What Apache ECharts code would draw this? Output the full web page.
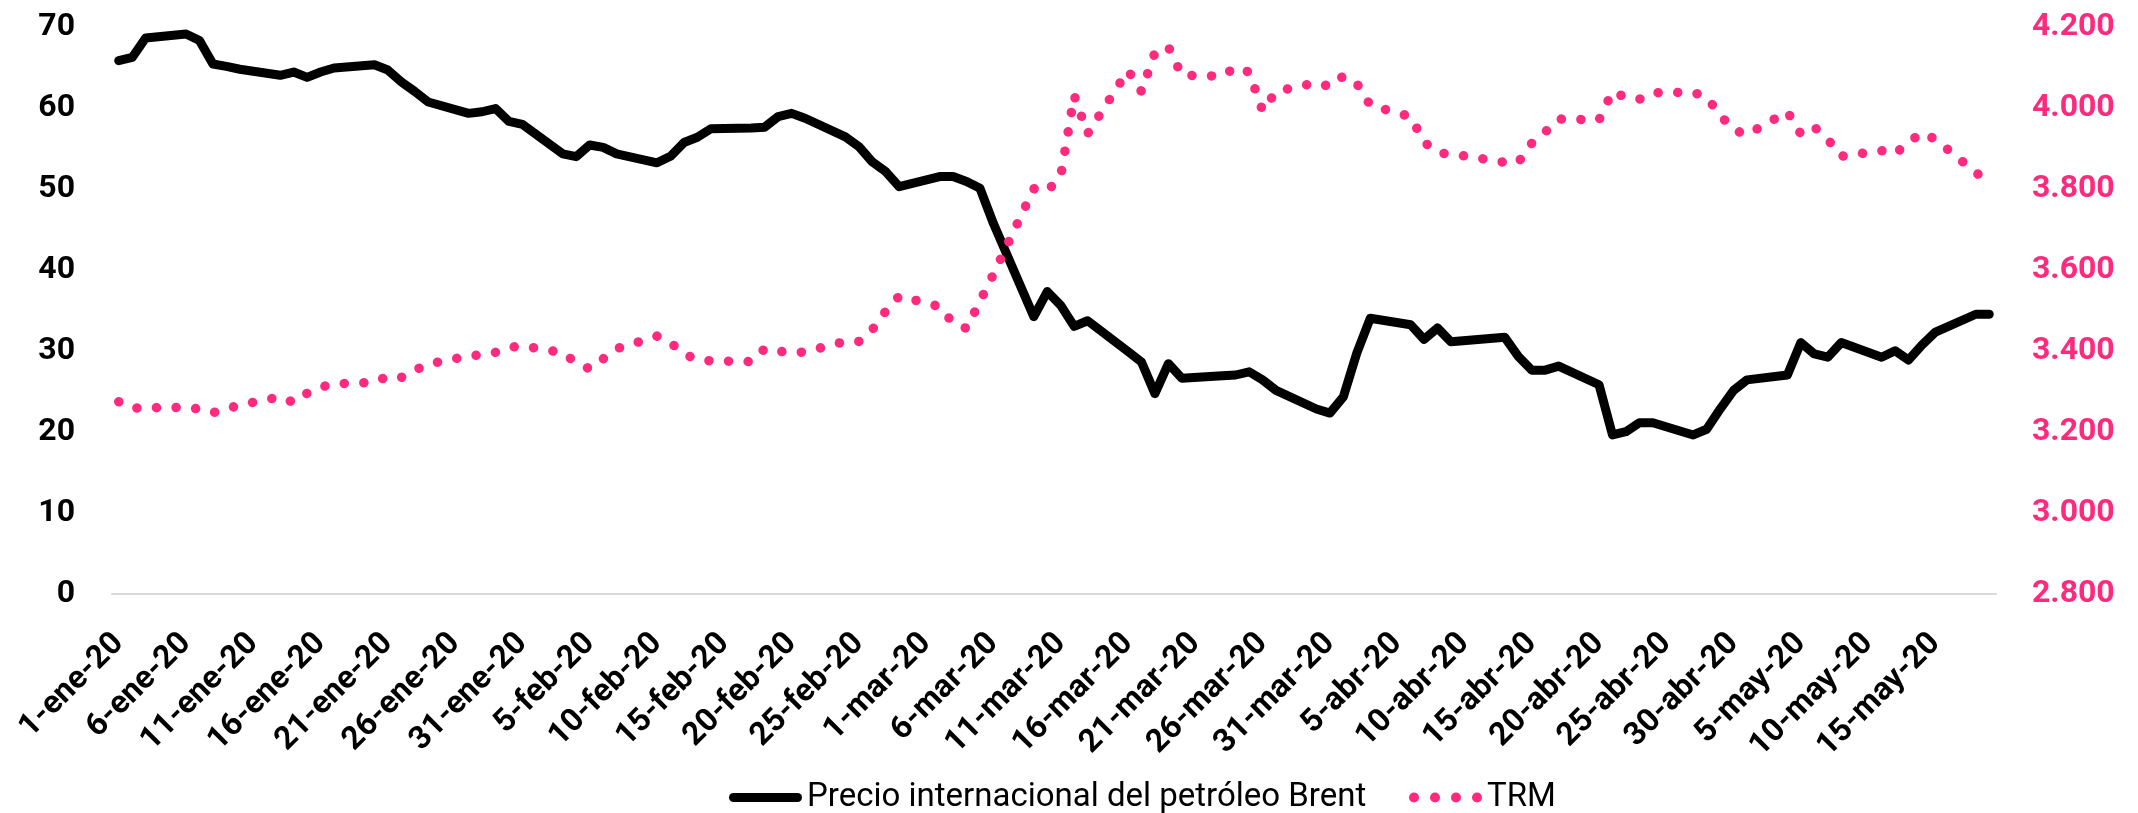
<!DOCTYPE html>
<html>
<head>
<meta charset="utf-8">
<script src="https://cdn.jsdelivr.net/npm/echarts@6/dist/echarts.min.js"></script>
<style>
  html, body { margin: 0; padding: 0; background: #fff; }
  #main { width: 2138px; height: 813px; }
</style>
</head>
<body>
<div id="main"></div>
<script>
// eje x: un dato por día calendario (1-ene-20 a 19-may-20)
var meses = ['ene', 'feb', 'mar', 'abr', 'may'];
var diasPorMes = [31, 29, 31, 30, 19];

// Brent (USD) por día del mes, null = sin cotización
var brentEne = [65.8, 66.2, 68.6, null, null, 69.1, 68.3, 65.4, 65.1, 64.75, null, null, 64.0, 64.4, 63.75, 64.4, 64.9, null, null, 65.3, 64.65, 63.2, 62.0, 60.7, null, null, 59.3, 59.5, 59.9, 58.3, 57.95];
var brentFeb = [null, null, 54.3, 53.95, 55.4, 55.1, 54.3, null, null, 53.2, 54.0, 55.7, 56.35, 57.4, null, null, 57.5, 57.6, 58.9, 59.3, 58.7, null, null, 56.4, 55.2, 53.3, 52.1, 50.25, null];
var brentMar = [null, 51.5, 51.5, 50.9, 50.05, 45.7, null, null, 34.2, 37.3, 35.6, 33.0, 33.7, null, null, 29.9, 28.6, 24.7, 28.4, 26.6, null, null, 26.9, 27.0, 27.4, 26.4, 25.1, null, null, 22.8, 22.3];
var brentAbr = [24.3, 29.7, 34.0, null, null, 33.2, 31.4, 32.8, 31.1, null, null, null, 31.65, 29.3, 27.6, 27.6, 28.1, null, null, 25.8, 19.6, 20.0, 21.1, 21.1, null, null, 19.6, 20.3, 22.8, 25.1];
var brentMay = [26.4, null, null, 27.0, 31.0, 29.6, 29.2, 31.0, null, null, 29.2, 30.0, 28.85, 30.7, 32.3, null, null, 34.5, 34.5];

// TRM (COP por USD)
var trmEne = [3274, 3258, 3259, null, null, 3260, 3256, 3247, 3256, 3266, null, null, 3286, 3272, 3295, 3310, 3318, null, null, 3322, 3337, 3334, 3352, 3367, null, null, 3387, 3390, 3396, 3408, 3412];
var trmFeb = [null, null, 3395, 3370, 3355, 3380, 3405, null, null, 3436, 3420, 3392, 3378, 3375, null, null, 3373, 3405, 3399, 3395, 3397, null, null, 3423, 3423, 3452, 3498, 3535, null];
var trmMar = [null, 3509, 3468, 3455, 3522, 3589, null, null, 3800, 3794, 3831, 4030, 3936, null, null, 4092, 4040, 4136, 4150, 4080, null, null, 4078, 4100, 4088, 3992, 4040, null, null, 4062, 4052];
var trmAbr = [4078, 4060, 4006, null, null, 3978, 3915, 3890, 3884, 3881, null, null, 3865, 3865, 3912, 3940, 3972, null, null, 3970, 4040, 4025, 4021, 4037, null, null, 4038, 4026, 3982, 3945];
var trmMay = [3934, null, null, 3990, 3935, 3952, 3922, 3880, null, null, 3894, 3886, 3915, 3938, 3922, null, null, 3840, 3815];

var fechas = [];
for (var m = 0; m < meses.length; m++) {
    for (var d = 1; d <= diasPorMes[m]; d++) {
        fechas.push(d + '-' + meses[m] + '-20');
    }
}
var brent = [].concat(brentEne, brentFeb, brentMar, brentAbr, brentMay);
var trm = [].concat(trmEne, trmFeb, trmMar, trmAbr, trmMay);

var ROSA = '#FF2A7E';
var FUENTE = 'Roboto';
var NOMBRE_BRENT = 'Precio internacional del petróleo Brent';

var myChart = echarts.init(document.getElementById('main'));

var option = {
    animation: false,
    backgroundColor: '#fff',
    grid: {
        left: 112,
        right: 142,
        top: 26.7,
        bottom: 219.3,
        containLabel: false,
        outerBoundsMode: 'none'
    },
    legend: [
        {
            data: [{
                name: NOMBRE_BRENT,
                icon: 'path://M4.5,0H68.5A4.5,4.5,0,0,1,68.5,9H4.5A4.5,4.5,0,0,1,4.5,0Z',
                itemStyle: { color: '#000', borderWidth: 0 }
            }],
            left: 724,
            top: 776,
            itemWidth: 73,
            itemHeight: 9,
            textStyle: { fontFamily: FUENTE, fontSize: 33, color: '#000' }
        },
        {
            data: [{
                name: 'TRM',
                icon: 'path://M0,5a5,5 0 1,0 10,0a5,5 0 1,0 -10,0Z' +
                      'M21,5a5,5 0 1,0 10,0a5,5 0 1,0 -10,0Z' +
                      'M42,5a5,5 0 1,0 10,0a5,5 0 1,0 -10,0Z' +
                      'M63,5a5,5 0 1,0 10,0a5,5 0 1,0 -10,0Z',
                itemStyle: { color: ROSA, borderWidth: 0 }
            }],
            left: 1404,
            top: 776,
            itemWidth: 73,
            itemHeight: 10,
            textStyle: { fontFamily: FUENTE, fontSize: 33, color: '#000' }
        }
    ],
    xAxis: {
        type: 'category',
        data: fechas,
        boundaryGap: true,
        axisLine: { lineStyle: { color: '#D9D9D9', width: 2 } },
        axisTick: { show: false },
        axisLabel: {
            interval: 4,
            rotate: 45,
            margin: 45,
            fontFamily: FUENTE,
            fontWeight: 'bold',
            fontSize: 32,
            color: '#000'
        }
    },
    yAxis: [
        {
            type: 'value',
            position: 'left',
            min: 0,
            max: 70,
            interval: 10,
            splitLine: { show: false },
            axisLine: { show: false },
            axisTick: { show: false },
            axisLabel: {
                margin: 37,
                fontFamily: FUENTE,
                fontWeight: 'bold',
                fontSize: 32,
                color: '#000'
            }
        },
        {
            type: 'value',
            position: 'right',
            min: 2800,
            max: 4200,
            interval: 200,
            splitLine: { show: false },
            axisLine: { show: false },
            axisTick: { show: false },
            axisLabel: {
                margin: 36,
                fontFamily: FUENTE,
                fontWeight: 'bold',
                fontSize: 32,
                color: ROSA,
                formatter: function (v) {
                    return String(v).replace(/\B(?=(\d{3})+(?!\d))/g, '.');
                }
            }
        }
    ],
    series: [
        {
            name: NOMBRE_BRENT,
            type: 'line',
            yAxisIndex: 0,
            data: brent,
            connectNulls: true,
            symbol: 'none',
            itemStyle: { color: '#000' },
            lineStyle: { color: '#000', width: 9, join: 'round', cap: 'round' }
        },
        {
            name: 'TRM',
            type: 'line',
            yAxisIndex: 1,
            data: trm,
            connectNulls: true,
            symbol: 'none',
            itemStyle: { color: ROSA },
            lineStyle: { color: ROSA, width: 9.5, type: [0.1, 19.5], cap: 'round', join: 'round' }
        }
    ]
};

myChart.setOption(option);
</script>
</body>
</html>
